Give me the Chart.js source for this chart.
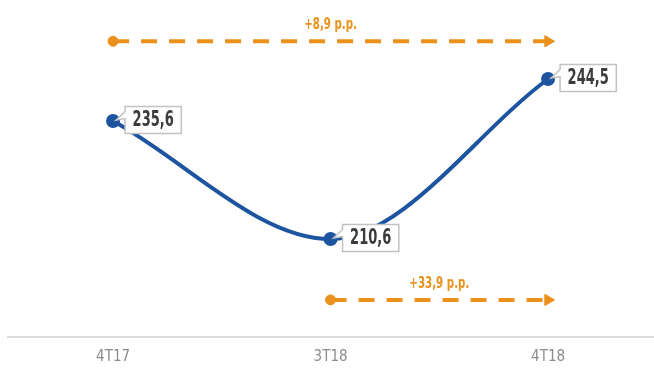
<!DOCTYPE html>
<html><head><meta charset="utf-8">
<script src="https://cdn.jsdelivr.net/npm/chart.js@4"></script>
<style>html,body{margin:0;background:#fff}#wrap{width:654px;height:369px}</style>
</head><body><div id="wrap"><canvas id="c"></canvas></div>
<script>
const quarters = ['4T17', '3T18', '4T18'];
const values = [235.6, 210.6, 244.5];
const valueLabels = ['235,6', '210,6', '244,5'];
// comparison arrows: from quarter index -> to quarter index, drawn at a level on the value scale
const arrowFrom = [0, 1];
const arrowTo = [2, 2];
const arrowLevel = [252.5, 197.7];
const arrowText = ['+8,9 p.p.', '+33,9 p.p.'];

const BLUE = '#1d54a0', ORANGE = '#ea911c';
const cond = "'DejaVu Sans Condensed','DejaVu Sans',sans-serif";

const arrowSets = arrowFrom.map((f, i) => ({
  data: [{ x: f, y: arrowLevel[i] }, { x: arrowTo[i], y: arrowLevel[i] }],
  borderColor: ORANGE, backgroundColor: ORANGE, borderWidth: 4, borderDash: [16, 12],
  pointStyle: ['circle', 'triangle'], pointRadius: [5, 6.5], pointRotation: [0, 90],
  pointBorderWidth: 1, clip: false, tension: 0
}));

// squeezed text, the reference uses a narrow bold face
function narrowText(ctx, txt, x, y, sx, align) {
  const w = ctx.measureText(txt).width * sx;
  const left = align === 'center' ? x - w / 2 : x;
  ctx.save();
  ctx.translate(left, y);
  ctx.scale(sx, 1);
  ctx.textAlign = 'left';
  ctx.fillText(txt, 0, 0);
  ctx.restore();
  return w;
}

// white callout boxes next to each point + text over the orange arrows
const labelsPlugin = {
  id: 'labels',
  afterDatasetsDraw(chart) {
    const { ctx } = chart;
    const pts = chart.getDatasetMeta(0).data;
    ctx.save();
    ctx.font = `bold 21px ${cond}`;
    ctx.textBaseline = 'middle';
    pts.forEach((p, i) => {
      const tw = ctx.measureText(valueLabels[i]).width * 0.69;
      const w = tw + 15, h = 27;
      const bx = p.x + 12, by = p.y - h / 2 - 1;
      ctx.beginPath();
      ctx.moveTo(bx, by);
      ctx.lineTo(bx + w, by);
      ctx.lineTo(bx + w, by + h);
      ctx.lineTo(bx, by + h);
      ctx.lineTo(bx, by + 12);
      ctx.lineTo(p.x + 3, p.y - 1);
      ctx.lineTo(bx, by + 5);
      ctx.closePath();
      ctx.fillStyle = '#fff';
      ctx.fill();
      ctx.strokeStyle = '#c2c2c2';
      ctx.lineWidth = 1.5;
      ctx.stroke();
      ctx.fillStyle = '#3b3b3b';
      narrowText(ctx, valueLabels[i], bx + 7.5, by + h / 2 + 1, 0.69, 'left');
    });
    ctx.font = `bold 15px ${cond}`;
    ctx.fillStyle = ORANGE;
    ctx.textBaseline = 'alphabetic';
    arrowSets.forEach((s, i) => {
      const d = chart.getDatasetMeta(i + 1).data;
      narrowText(ctx, arrowText[i], (d[0].x + d[1].x) / 2, d[0].y - 12, 0.76, 'center');
    });
    ctx.restore();
  }
};

new Chart(document.getElementById('c'), {
  type: 'line',
  data: {
    datasets: [{
      data: values.map((v, i) => ({ x: i, y: v })),
      borderColor: BLUE, backgroundColor: BLUE, borderWidth: 4,
      cubicInterpolationMode: 'monotone', pointRadius: 5, pointBackgroundColor: BLUE,
      pointBorderColor: BLUE, clip: false
    }, ...arrowSets]
  },
  options: {
    responsive: true, maintainAspectRatio: false, animation: false,
    layout: { autoPadding: false, padding: { left: 8, right: 0, top: 0, bottom: 3 } },
    plugins: { legend: { display: false }, tooltip: { enabled: false } },
    scales: {
      x: {
        type: 'linear', min: -0.483, max: 2.487,
        // invisible tick marks keep the labels off the axis line
        grid: { display: true, drawOnChartArea: false, drawTicks: true, tickLength: 11, color: 'rgba(0,0,0,0)' },
        border: { color: '#dcdcdc', width: 2 },
        ticks: {
          stepSize: 1, maxRotation: 0, autoSkip: false, padding: 0,
          color: '#8c8c8c', font: { family: cond, size: 15 },
          callback: (v) => Number.isInteger(v) ? quarters[v] : ''
        }
      },
      y: { display: false, min: 189.84, max: 261.24 }
    }
  },
  plugins: [labelsPlugin]
});
</script>
</body></html>
